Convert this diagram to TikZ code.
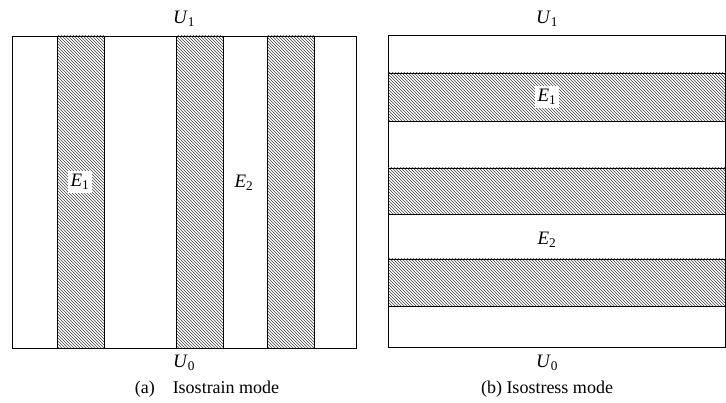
\documentclass[tikz,border=0pt]{standalone}
\usepackage{fontspec}
\setmainfont{Liberation Serif}
\usetikzlibrary{patterns}
\tikzset{
  frame/.style={draw=black, line width=0.8pt},
  layer/.style={draw=black, line width=0.8pt,
    pattern=north west lines, pattern color=black!75},
  lbl/.style={font=\fontsize{19}{21}\selectfont, inner sep=1pt},
  boxlbl/.style={lbl, fill=white, inner sep=3pt},
  caption/.style={font=\fontsize{18}{20}\selectfont}
}
\newcommand{\modsym}[2]{\textit{#1}\textsubscript{#2}}

\begin{document}
\begin{tikzpicture}[x=1pt, y=-1pt]
  \useasboundingbox (0,0) rectangle (726,403);
  % (a) isostrain: vertical layers
  \draw[frame] (12,36) rectangle (356,348);
  \foreach \xa/\xb in {57/104, 176/223, 267/314}
    \draw[layer] (\xa,36) rectangle (\xb,348);
  \node[lbl] (u1a) at (184,19) {\modsym{U}{1}};
  \node[lbl] (u0a) at (184,363) {\modsym{U}{0}};
  \node[boxlbl] (e1a) at (80,182) {\modsym{E}{1}};
  \node[lbl] (e2a) at (244,183) {\modsym{E}{2}};
  \node[caption] (capa) at (207,389) {(a)\quad Isostrain mode};
  % (b) isostress: horizontal layers
  \draw[frame] (388,35) rectangle (725.5,347);
  \foreach \ya/\yb in {73/121, 168/214, 259/306}
    \draw[layer] (388,\ya) rectangle (725.5,\yb);
  \node[lbl] (u1b) at (547,19) {\modsym{U}{1}};
  \node[lbl] (u0b) at (547,363) {\modsym{U}{0}};
  \node[boxlbl] (e1b) at (547,97) {\modsym{E}{1}};
  \node[lbl] (e2b) at (547,240) {\modsym{E}{2}};
  \node[caption] (capb) at (547,389) {(b) Isostress mode};
\end{tikzpicture}
\end{document}
